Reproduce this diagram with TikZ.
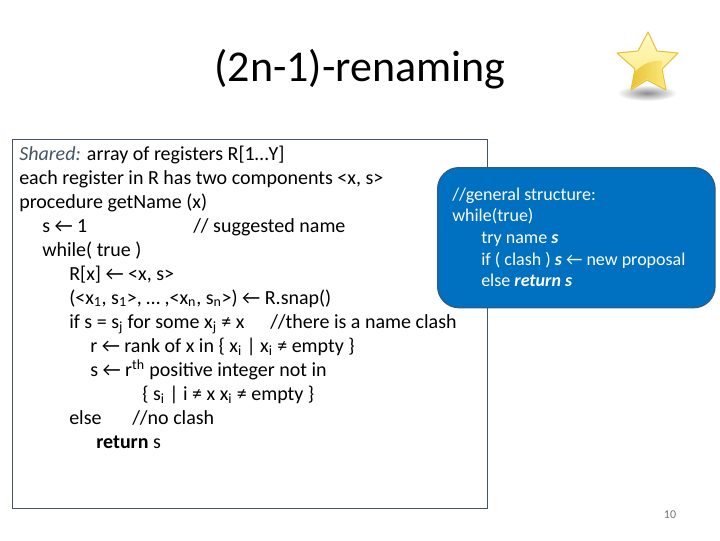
\documentclass[tikz,border=0pt]{standalone}
\usepackage{fontspec}
\setmainfont{Carlito}
\usetikzlibrary{shadings}

\tikzset{
	code/.style = {anchor=base west, inner sep=0pt, yshift=-0.75pt, font=\fontsize{15}{18}\selectfont, text=black},
	hint/.style = {anchor=base west, inner sep=0pt, font=\fontsize{13.5}{16}\selectfont, text=white}
}
\definecolor{framegray}{HTML}{44546A}
\definecolor{hintblue}{HTML}{0070C0}
\definecolor{hintedge}{HTML}{2A5D8F}
\definecolor{stargold}{HTML}{E8C33A}
\definecolor{starpale}{HTML}{FFF9C8}
\definecolor{starmid}{HTML}{FBE978}

\begin{document}
\begin{tikzpicture}[x=0.75pt, y=-0.75pt]
	\useasboundingbox (0,0) rectangle (720,540);
	\node [font=\fontsize{33}{40}\selectfont, text=black, anchor=base] (title) at (360,81) {(2n-1)-renaming};

	% star
	\shade [inner color=black!45, outer color=white] (647,93) ellipse (30 and 8);
	\shade [top color=starpale, bottom color=starmid, draw=stargold, line width=0.8pt, line join=round]
		(648,32) -- (657,51) -- (678,53) -- (662,69) -- (666,90) -- (647,80) -- (631,90) -- (635,69) -- (617,53) -- (638,51) -- cycle;
	\shade [left color=stargold, right color=starmid] (634,73) .. controls (641,65) and (650,60) .. (662,61) -- (661,69) -- (665,88) -- (647,79) -- (632,88) -- cycle;

	% left box
	\node [draw=framegray, line width=0.8pt, inner sep=0pt, minimum width=356.25pt, minimum height=276.75pt, anchor=north west] (regbox) at (12,139) {};
	\node [code] (shared) at (19,159) {\textcolor{framegray}{\textit{Shared:}} array of registers R[1…Y]};
	\node [code] (comps) at (19,183) {each register in R has two components <x, s>};
	\node [code] (proc) at (19,207) {procedure getName (x)};
	\node [code] (init) at (42,231) {s ← 1};
	\node [code] (initnote) at (193,231) {// suggested name};
	\node [code] (loop) at (42,255) {while( true )};
	\node [code] (write) at (69,279) {R[x] ← <x, s>};
	\node [code] (snap) at (69,303) {(<x\textsubscript{1}, s\textsubscript{1}>, … ,<x\textsubscript{n}, s\textsubscript{n}>) ← R.snap()};
	\node [code] (test) at (69,327) {if s = s\textsubscript{j} for some x\textsubscript{j} ≠ x};
	\node [code] (testnote) at (270,327) {//there is a name clash};
	\node [code] (rank) at (90,351) {r ← rank of x in \{ x\textsubscript{i} | x\textsubscript{i} ≠ empty \}};
	\node [code] (pick) at (90,375) {s ← r\textsuperscript{th} positive integer not in};
	\node [code] (set) at (142,399) {\{ s\textsubscript{i} | i ≠ x x\textsubscript{i} ≠ empty \}};
	\node [code] (other) at (69,423) {else};
	\node [code] (othernote) at (132,423) {//no clash};
	\node [code] (ret) at (96,447) {\textbf{return} s};

	% blue box
	\node [draw=hintedge, fill=hintblue, line width=1pt, rounded corners=16pt, inner sep=0pt, minimum width=208pt, minimum height=105pt, anchor=north west] (hintbox) at (437,167) {};
	\node [hint] (hintone) at (452,200) {//general structure:};
	\node [hint] (hinttwo) at (452,221) {while(true)};
	\node [hint] (hintthree) at (481,243) {try name \textbf{\textit{s}}};
	\node [hint] (hintfour) at (481,265) {if ( clash ) \textbf{\textit{s}} ← new proposal};
	\node [hint] (hintfive) at (481,286) {else \textbf{\textit{return s}}};

	\node [anchor=base, inner sep=0pt, font=\fontsize{9}{11}\selectfont, text=black!55] (pagenum) at (670,518) {10};
\end{tikzpicture}
\end{document}
